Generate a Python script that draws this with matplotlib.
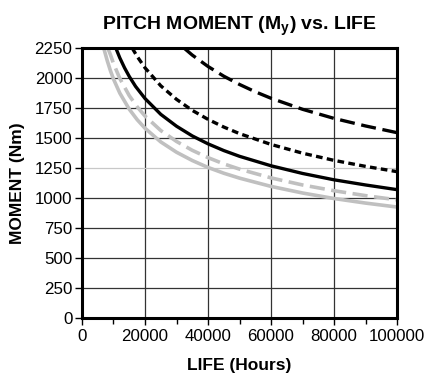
import matplotlib
matplotlib.use("Agg")
import matplotlib.pyplot as plt
from matplotlib.ticker import MultipleLocator

plt.rcParams['font.family'] = ['Liberation Sans', 'DejaVu Sans']

# life (hours) and moment (Nm)
life_a = [32400, 35000, 40000, 45000, 50000, 55000, 60000, 70000, 80000, 90000, 100000]
moment_a = [2250, 2192, 2097, 2016, 1947, 1886, 1832, 1740, 1664, 1601, 1545]

life_b = [15940, 17500, 20000, 25000, 30000, 35000, 40000, 45000, 50000, 60000, 70000,
          80000, 90000, 100000]
moment_b = [2250, 2181, 2086, 1936, 1823, 1731, 1656, 1592, 1537, 1447, 1374,
            1314, 1264, 1220]

life_c = [10750, 12000, 13500, 15000, 17000, 20000, 25000, 30000, 35000, 40000, 45000,
          50000, 60000, 70000, 80000, 90000, 100000]
moment_c = [2250, 2169, 2086, 2014, 1931, 1830, 1698, 1599, 1518, 1452, 1396,
            1348, 1269, 1205, 1152, 1109, 1070]

life_d = [8200, 9000, 10000, 12000, 15000, 17500, 20000, 25000, 30000, 35000, 40000,
          45000, 50000, 60000, 70000, 80000, 90000, 100000]
moment_d = [2250, 2197, 2122, 1997, 1854, 1761, 1684, 1563, 1472, 1398, 1337,
            1285, 1241, 1168, 1109, 1061, 1020, 985]

life_e = [6900, 8000, 9000, 10000, 12000, 15000, 17500, 20000, 25000, 30000, 35000,
          40000, 45000, 50000, 60000, 70000, 80000, 90000, 100000]
moment_e = [2250, 2147, 2064, 1992, 1875, 1741, 1654, 1582, 1468, 1382, 1313,
            1255, 1207, 1166, 1097, 1042, 996, 958, 925]

fig = plt.figure(figsize=(4.27, 3.79), dpi=100)
ax = fig.add_axes([0.192, 0.161, 0.738, 0.712])

gray = '#c0c0c0'
lw = 2.4
ax.plot(life_e, moment_e, color=gray, lw=2.6, solid_joinstyle='round', zorder=3)
ax.plot(life_d, moment_d, color=gray, lw=2.6, dashes=(4.2, 1.8), zorder=3)
ax.plot(life_c, moment_c, color='black', lw=lw, solid_joinstyle='round', zorder=4)
ax.plot(life_b, moment_b, color='black', lw=lw, dashes=(2.0, 1.3), zorder=4)
ax.plot(life_a, moment_a, color='black', lw=lw, dashes=(4.5, 2.0), zorder=4)

ax.set_xlim(0, 100000)
ax.set_ylim(0, 2250)
ax.xaxis.set_major_locator(MultipleLocator(20000))
ax.xaxis.set_minor_locator(MultipleLocator(10000))
ax.yaxis.set_major_locator(MultipleLocator(250))

ax.grid(True, which='major', color='#333333', lw=0.9, zorder=1)
# the 1250 line is drawn lighter
for gl, val in zip(ax.get_ygridlines(), ax.get_yticks()):
    if abs(val - 1250) < 1:
        gl.set_color('#c8c8c8')

for s in ax.spines.values():
    s.set_linewidth(2.2)
    s.set_zorder(5)

ax.tick_params(axis='both', which='major', labelsize=12.2, length=5, width=1, direction='out')
ax.tick_params(axis='x', which='minor', length=4, width=1)
ax.tick_params(axis='x', pad=3)
ax.tick_params(axis='y', pad=2)

ax.set_xlabel('LIFE (Hours)', fontsize=12.5, fontweight='bold', labelpad=10)
ax.set_ylabel('MOMENT (Nm)', fontsize=12.5, fontweight='bold', labelpad=7)
ax.set_title(r'PITCH MOMENT (M$_\mathregular{y}$) vs. LIFE', fontsize=14,
             fontweight='bold', pad=13)

fig.savefig('out.png', dpi=100)
